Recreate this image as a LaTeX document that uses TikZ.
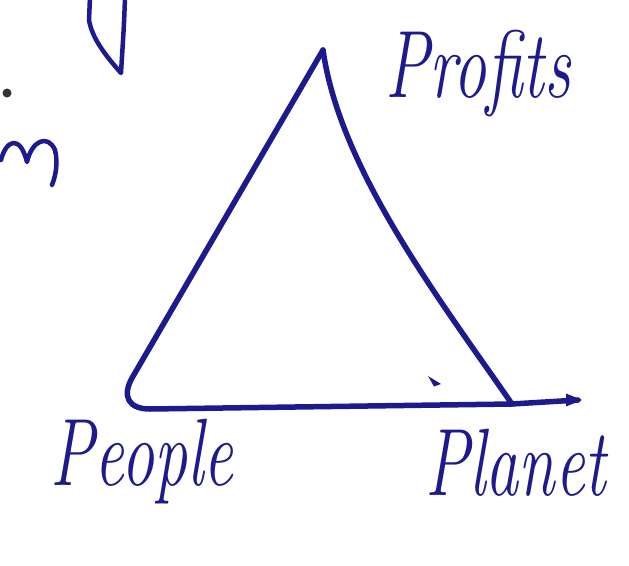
\documentclass[tikz,border=0pt]{standalone}
\usetikzlibrary{arrows.meta}
\definecolor{ink}{RGB}{28,26,140}
\tikzset{
  pen/.style={draw=ink, line width=5.5pt, line cap=round, line join=round},
  hand/.style={text=ink, font=\fontsize{66}{70}\selectfont\itshape, inner sep=0pt},
}
\begin{document}
\begin{tikzpicture}[x=1pt,y=-1pt]
\useasboundingbox (0,0) rectangle (629,565);
\fill[white] (0,0) rectangle (629,565);
% corners of the triangle
\coordinate (apex) at (323,50);
\coordinate (rc) at (512,404);
\coordinate (tip) at (578,400);
% left side and bottom (with rounded corner)
\draw[pen] (apex) -- (132,378) .. controls (122,396) and (128,409) .. (150,409) -- (rc) -- (tip);
\fill[ink] (582,400) -- (566,393.5) -- (566,406.5) -- cycle;
% right side (slightly concave)
\draw[pen] (apex) .. controls (340,170) and (440,300) .. (rc);
% small mark
\fill[ink] (428,376) -- (441,384) -- (434,386.5) -- cycle;
% stray fragments from the page
\draw[pen, line width=4.5pt] (125,-3) .. controls (124,30) and (122,55) .. (121,73) .. controls (105,55) and (92,38) .. (89,20) -- (90,-3);
\fill[black!80] (7,93) circle (4.5);
\draw[pen, line width=4.5pt] (1,160) .. controls (6,140) and (20,134) .. (27,162) .. controls (32,140) and (48,134) .. (55,150) .. controls (58,162) and (56,175) .. (52,185);
% labels
\node[hand] (profits) at (478,74) {\scalebox{1}[1.45]{Profits}};
\node[hand] (people) at (142,462) {\scalebox{1}[1.45]{People}};
\node[hand] (planet) at (516,463) {\scalebox{1}[1.45]{Planet}};
\end{tikzpicture}
\end{document}
